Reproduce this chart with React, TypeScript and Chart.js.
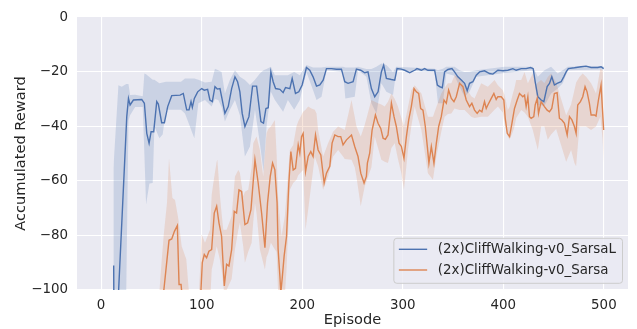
import React, { useEffect, useRef } from 'react';
import { Chart, registerables } from 'chart.js';

Chart.register(...registerables);

const seriesNames = ['(2x)CliffWalking-v0_SarsaL', '(2x)CliffWalking-v0_Sarsa'];
const xTicks = [0, 100, 200, 300, 400, 500];
const yTicks = [-100, -80, -60, -40, -20, 0];
const xLabel = 'Episode';
const yLabel = 'Accumulated Reward';

// SarsaL mean line
const sarsaLEpisodes = [12.5,12.8,15.5,25.5,27.2,28.8,32.1,40.4,43,45.4,
  47.7,49.7,52.3,55.3,56.9,60.2,62.9,66.2,70.2,78.5,
  81.7,85.1,87.4,89.4,90.7,92.7,96,100,102.6,105.9,
  108.2,110.6,113.2,115.5,118.2,120.5,123.1,126.4,129.8,133.1,
  135.7,138,140.3,143,147,150.6,154.6,158.9,161.5,163.9,
  166.2,168.8,171.1,173.5,177.8,181,183.4,187.7,190,193.3,
  196.6,199.9,204.2,207.5,210.8,214.2,217.5,220.8,224.1,229.1,
  234,239,242.3,245.6,250.6,253.9,258.2,262.2,265.4,268.8,
  272.1,275.4,278.7,281,283.7,288.7,292,294.3,298.6,301.9,
  306.9,311.8,314.1,318.5,321.7,325,331.7,334.4,336.6,339.3,
  341.6,344.9,348.9,351.5,354.8,358.2,361.5,364.1,366.4,369.7,
  373.1,376.4,381.3,386.3,389.6,394.6,399.5,404.5,409.5,412.8,
  417.8,422.7,427,429.7,431.7,434.3,437.6,440.3,443.6,445.9,
  448.2,450.8,453.5,457.5,460.1,462.5,464.7,470.7,477.3,482.3,
  487.3,493.9,497.2,499.8];
const sarsaLReward = [-91,-120,-115,-36.5,-29.8,-32.2,-30.4,-30.2,-31.6,-42.6,
  -46.2,-42,-42,-31,-31.9,-38.7,-38.7,-32.8,-28.8,-28.6,
  -28,-34,-34,-31,-33.1,-29.8,-27.4,-26.2,-26.8,-26.5,
  -30.4,-31,-25.5,-26.4,-26.2,-30.4,-35.3,-32.8,-26.2,-21.9,
  -23.7,-27.4,-35.3,-40.1,-36.5,-25.3,-25.3,-38.3,-38.9,-33.5,
  -33.2,-20.1,-23.7,-26.2,-26.5,-27.7,-25.8,-26.2,-22.5,-28,
  -27.4,-24.9,-18.5,-19.5,-21.9,-25.3,-24.9,-23.1,-18.9,-18.9,
  -19.1,-19.1,-23.7,-24.3,-23.7,-19.1,-19.5,-20.4,-20.1,-26.2,
  -29.2,-27.4,-20.1,-17.6,-22.5,-22.9,-23.1,-18.9,-19.1,-19.5,
  -20.4,-19.5,-18.9,-19.5,-18.9,-19.5,-19.5,-24.9,-25.5,-25.9,
  -20.1,-19.2,-18.9,-20.1,-21.9,-23.1,-24.3,-27,-24.3,-23.7,
  -21.3,-20.1,-19.7,-20.7,-20.9,-19.5,-19.7,-19.5,-18.9,-19.5,
  -18.9,-18.9,-18.5,-18.9,-23.7,-29.2,-30.4,-31,-25.5,-24.3,
  -21.9,-24.9,-24.3,-23.7,-21.9,-20.1,-18.9,-18.6,-18.2,-18,
  -18.5,-18.5,-18.2,-18.9];

// SarsaL confidence band
const sarsaLBandEpisodes = [12.2,17.2,20.5,25,27.2,28.8,33.8,41.4,43,44.7,
  48,51.3,53,57.9,61.2,64.5,79.4,83.4,92.7,96.7,
  103.3,109.9,113.2,116.5,119.8,123.1,128.1,133.1,138,143,
  148,153,157.9,161.5,164.5,168.8,172.8,181,185.7,192,
  197.6,204.2,210.8,214.2,219.2,224.1,240.6,242.9,252.2,255.5,
  263.8,268.8,273.8,278.7,283.7,290.3,293.6,331.7,335,339.9,
  343.3,351.5,356.5,361.5,366.4,373.1,401.2,429.3,434.3,440.9,
  447.5,454.1,459.1,464.1,499.8];
const sarsaLUpper = [-55.4,-25,-25.5,-24.5,-24.5,-28.6,-28.5,-29,-20.7,-21,
  -22,-23,-23,-24.3,-24,-23.7,-23.7,-22.5,-22.5,-23,
  -24,-23.7,-18.9,-19.5,-20.1,-28,-23,-19.5,-21.9,-23.1,
  -24.9,-23,-20.7,-19.5,-19,-18.2,-21.3,-21.3,-21.3,-20.1,
  -21.3,-17.6,-18.5,-18.5,-18.5,-18.2,-18.2,-18.5,-18.5,-18.2,
  -19,-19,-18.2,-17,-17.6,-20.1,-18.2,-18.9,-19.5,-18.9,
  -18.2,-18.2,-19.5,-20.1,-20,-19.5,-18.2,-18.2,-21.9,-19.5,
  -18.2,-20.7,-19.5,-18.2,-18];
const sarsaLLower = [-115,-115,-115,-100,-38,-36,-33,-33,-50,-68.7,
  -61,-60.8,-40,-44.4,-43,-34,-34,-35.3,-44.4,-31.6,
  -30.4,-32.8,-30,-30.4,-33,-38.3,-34,-30.4,-36,-51.1,
  -47.4,-34,-46.2,-56.6,-40.1,-27.4,-30.4,-34.7,-30.4,-34,
  -30.4,-20.1,-26.8,-30.4,-29.2,-19.5,-20.1,-29.8,-29.2,-19.5,
  -21.9,-31.6,-35.3,-24.3,-27.4,-28.6,-19.5,-20.1,-31.6,-31.6,
  -20.7,-21.5,-25.5,-29.2,-27.4,-21.9,-20.5,-19.5,-32.2,-32.5,
  -28,-26.2,-24.3,-19.5,-19.2];

// Sarsa mean line
const sarsaEpisodes = [59,67.5,70.2,72.9,75.8,77.5,79.5,81,88,97,
  99.3,100.6,102.6,104.9,107.2,109.9,112.5,114.9,117.2,119.8,
  122.5,124.8,127.1,129.8,132.4,134.7,137.1,139.7,143,145.7,
  149,153,156.2,159.6,162.9,165.5,168.2,170.5,172.8,175,
  176,177.8,178.7,180,182,184.4,186.7,188.7,191,193.3,
  196,197.6,199.3,200.9,203.3,205.9,208.5,210.8,213.2,215.8,
  218.5,221.8,224.1,227.4,229.7,232.4,235.7,238.3,240.6,244,
  249,252.2,255.5,258.2,261.5,263.8,264.8,267.1,269.5,272.8,
  275.4,278.1,280.4,282.7,285.3,288.7,291.3,293.6,296.3,298.6,
  301.2,303.6,305.9,308.5,311.2,313.5,315.8,317.8,320.1,322.4,
  324.4,326,328.4,331,333.4,335.7,338.3,341,343.3,345.6,
  348.3,350.9,353.2,356.5,359.8,363.1,366.4,368.7,371.4,374,
  376.4,378.7,381.3,383,384.6,388,390.6,392.9,394.6,397.9,
  400.5,401.9,403.9,406.2,408.6,411.1,413.8,416.1,419.4,421.1,
  422.7,424.4,426,427.7,430.3,431.7,433.7,435,437.6,440.9,
  443.6,445.9,448.2,450.8,453.5,455.8,458.2,460.8,463.5,465.8,
  468.2,470.7,472.4,474,476.7,479,481.3,483.3,485.6,487.3,
  490.6,492.2,494.6,497.2,499.8];
const sarsaReward = [-112,-81.8,-81.3,-78.5,-76.4,-98,-98,-104,-118,-112,
  -100,-90,-87,-88.2,-85.8,-85.2,-71.8,-69.3,-75.4,-80.3,
  -98.5,-90.6,-91.2,-85.2,-71.2,-71.8,-63.3,-63.9,-76,-75.4,
  -70.6,-52.3,-60.8,-71.8,-84.5,-68.1,-58.4,-53.5,-56,-68,
  -85,-94.9,-101,-96,-87.6,-80.3,-60.8,-49.3,-56,-55.4,
  -46.8,-49.9,-43.8,-42.6,-56.6,-51.1,-49.3,-51.1,-43.2,-48.7,
  -50.5,-60.8,-57.2,-54.7,-46.2,-43.2,-43.8,-43.8,-46.8,-45,
  -43.2,-47.4,-51.1,-57.2,-60.8,-58.4,-53.5,-49.9,-41.4,-35.9,
  -38.9,-40.8,-44.4,-44.8,-43.2,-31.6,-36.5,-40.1,-46.2,-47.4,
  -51.7,-43.8,-37.7,-32.8,-26.2,-27.4,-28,-33.5,-34.1,-40.1,
  -47.4,-53.5,-47.4,-53.5,-46.2,-40.1,-36.5,-30.4,-31.6,-26.8,
  -29.8,-31,-29.2,-24.3,-25.5,-30.4,-32.8,-31.6,-34.1,-35.3,
  -34.1,-34.7,-31,-33.5,-32.2,-29.8,-28,-30.2,-29.2,-29.2,
  -30.4,-37.1,-42.6,-43.8,-38.9,-33.5,-30.4,-28,-29.2,-28.6,
  -32.8,-29.2,-36.5,-37.1,-36.5,-32.2,-29.8,-35.3,-31,-32.8,
  -34.1,-34.7,-33.5,-28,-27.7,-37.1,-37.7,-38.9,-43.2,-36.5,
  -37.7,-40.1,-42.6,-32.2,-31,-29.2,-25.5,-27.4,-31.6,-35.9,
  -35.9,-36.3,-30.4,-24.9,-41.4];

// Sarsa confidence band
const sarsaBandEpisodes = [56,59,62.2,65.5,67.5,70.9,73.5,76.8,80.1,84.7,
  88,97,100,103.3,108.3,110,111.6,114.9,115.6,118.2,
  119.8,121.5,123.1,124.8,129.8,133.1,136.4,138,141.3,143,
  146.3,149.7,151.3,153,154.6,157.9,161.2,162.9,164.5,166.2,
  168.8,172.8,174.5,176.1,179.4,182.7,184.4,187.7,191,194.3,
  196,200.9,203.3,205.9,209.2,212.5,214.2,215.8,220.8,225.7,
  230.7,235.7,240.6,242.3,249,252.2,253.9,258.2,262.2,268.8,
  272.1,275.4,278.7,282,285.3,288.7,292,295.2,298.6,301.2,
  305.2,308.5,311.8,318.5,325,330,333.4,338.3,341.6,344.9,
  348.3,351.5,356.5,361.5,368.1,371.4,378,384.6,391.3,394.6,
  399.5,401.2,404.5,406.2,409.5,411.1,412.8,417.8,421.1,424.4,
  429.3,432.6,434.3,437.6,440.9,444.2,447.5,452.5,457.5,462.5,
  467.4,470.7,472.4,475.7,479,482.3,487.3,492.2,496.5,498.8,
  499.8];
const sarsaUpper = [-112,-95,-80,-68,-51.7,-66.3,-67,-74,-84,-88.7,
  -104,-104,-79.7,-82.7,-77.9,-65,-60.8,-53,-52.3,-65.7,
  -72,-77.9,-77.9,-77.9,-73,-58.4,-56,-57,-65.7,-64,
  -63.3,-55,-46.2,-45,-43.8,-48.7,-58.4,-50,-42.6,-41,
  -40.1,-37.7,-50,-66.9,-80.3,-73,-65,-48.7,-47,-40,
  -38.3,-34.7,-34,-32.8,-33.5,-34,-35.3,-41.4,-51.1,-46.2,
  -42,-40.1,-41,-41.4,-30.4,-36.5,-40,-43.8,-39.5,-30.4,
  -31,-31.6,-32,-32.8,-31,-28,-30,-32.8,-37,-40.1,
  -33,-26.8,-25,-28,-36.5,-36.5,-33,-28,-26,-24.3,
  -24.3,-21.3,-22,-25,-29,-29.8,-24.3,-25.5,-23.1,-25,
  -26.8,-28.6,-34.1,-33,-28,-26,-23.1,-23.1,-20.1,-24.3,
  -20.7,-24.9,-24,-23.1,-24.3,-22,-20.7,-24,-30,-36,
  -32,-26.8,-24,-22,-20.7,-21.9,-24.3,-28,-18.9,-19.5,
  -30.4];
const sarsaLower = [-115,-115,-115,-115,-115,-115,-115,-115,-115,-115,
  -115,-115,-115,-112,-105,-92.5,-90,-84,-85,-89,
  -92.5,-98,-104,-100,-96,-85.2,-78,-75.4,-84,-90,
  -86,-82.7,-75,-68.1,-72,-85.2,-90,-92.5,-88,-86.4,
  -82.7,-85.2,-86,-102,-106,-102,-92.5,-63.3,-60.8,-59.6,
  -58,-56,-77.9,-70.6,-60.8,-51.1,-53,-54.7,-63.3,-58.4,
  -51.1,-48.7,-51.1,-52,-52.3,-55,-58.4,-69.3,-62,-55,
  -43.8,-48,-52.3,-53,-53.5,-48,-46.2,-52,-57.2,-63.3,
  -48.7,-40,-32.8,-41.4,-57.2,-59.6,-51.1,-42,-36.5,-35.5,
  -35.3,-33.5,-34.1,-34.1,-36.5,-37,-36.5,-36.5,-34,-32.8,
  -35,-38.9,-43.8,-45,-42,-40.1,-37,-34.1,-35,-36.5,
  -41.4,-46.2,-48.7,-40.1,-40.1,-45,-43,-41,-47,-53,
  -48.7,-53.5,-54.7,-40.1,-40.1,-40.1,-41.4,-40.1,-36.5,-45,
  -53.5];

const BLUE = '#4C72B0';
const ORANGE = '#DD8452';
const BLUE_FILL = 'rgba(76,114,176,0.2)';
const ORANGE_FILL = 'rgba(221,132,82,0.2)';
const TEXT = '#262626';
const FONT = '"DejaVu Sans", "Liberation Sans", sans-serif';

const toPoints = (xs: number[], ys: number[]) => xs.map((x, i) => ({ x, y: ys[i] }));

const bgPlugin = {
  id: 'plotBg',
  beforeDraw(chart: any) {
    const { ctx, chartArea } = chart;
    ctx.save();
    ctx.fillStyle = '#EAEAF2';
    ctx.fillRect(chartArea.left, chartArea.top, chartArea.right - chartArea.left, chartArea.bottom - chartArea.top);
    ctx.restore();
  },
};

const legendPlugin = {
  id: 'insideLegend',
  afterDraw(chart: any) {
    const { ctx, chartArea } = chart;
    ctx.save();
    ctx.font = `13.4px ${FONT}`;
    const tw = Math.max(...seriesNames.map((n) => ctx.measureText(n).width));
    const boxRight = chartArea.right - 5.5;
    const boxBottom = chartArea.bottom - 6.7;
    const boxTop = chartArea.bottom - 51.7;
    const textX = boxRight - 6.5 - tw;
    const boxLeft = textX - 44;
    ctx.beginPath();
    if (ctx.roundRect) ctx.roundRect(boxLeft, boxTop, boxRight - boxLeft, boxBottom - boxTop, 3);
    else ctx.rect(boxLeft, boxTop, boxRight - boxLeft, boxBottom - boxTop);
    ctx.fillStyle = 'rgba(234,234,242,0.8)';
    ctx.fill();
    ctx.strokeStyle = '#cccccc';
    ctx.lineWidth = 1;
    ctx.stroke();
    const rows = [chartArea.bottom - 40.7, chartArea.bottom - 20];
    const colors = [BLUE, ORANGE];
    rows.forEach((y, i) => {
      ctx.beginPath();
      ctx.moveTo(textX - 39, y);
      ctx.lineTo(textX - 10.7, y);
      ctx.strokeStyle = colors[i];
      ctx.lineWidth = 1.4;
      ctx.stroke();
      ctx.fillStyle = TEXT;
      ctx.textBaseline = 'middle';
      ctx.textAlign = 'left';
      ctx.fillText(seriesNames[i], textX, y + 0.5);
    });
    ctx.restore();
  },
};

export default function App() {
  const canvasRef = useRef<HTMLCanvasElement | null>(null);

  useEffect(() => {
    if (!canvasRef.current) return;
    const lineCommon = { pointRadius: 0, borderWidth: 1.4, tension: 0, fill: false };
    const bandCommon = { pointRadius: 0, borderWidth: 0, tension: 0 };
    const chart = new Chart(canvasRef.current, {
      type: 'line',
      data: {
        datasets: [
          { ...bandCommon, label: 'sarsaL_upper', data: toPoints(sarsaLBandEpisodes, sarsaLUpper), borderColor: 'rgba(0,0,0,0)', fill: false, order: 4 },
          { ...bandCommon, label: 'sarsaL_lower', data: toPoints(sarsaLBandEpisodes, sarsaLLower), borderColor: 'rgba(0,0,0,0)', backgroundColor: BLUE_FILL, fill: '-1', order: 4 },
          { ...bandCommon, label: 'sarsa_upper', data: toPoints(sarsaBandEpisodes, sarsaUpper), borderColor: 'rgba(0,0,0,0)', fill: false, order: 3 },
          { ...bandCommon, label: 'sarsa_lower', data: toPoints(sarsaBandEpisodes, sarsaLower), borderColor: 'rgba(0,0,0,0)', backgroundColor: ORANGE_FILL, fill: '-1', order: 3 },
          { ...lineCommon, label: seriesNames[0], data: toPoints(sarsaLEpisodes, sarsaLReward), borderColor: BLUE, order: 1 },
          { ...lineCommon, label: seriesNames[1], data: toPoints(sarsaEpisodes, sarsaReward), borderColor: ORANGE, order: 0 },
        ],
      },
      options: {
        animation: false,
        responsive: false,
        events: [],
        layout: { padding: { left: 0, right: 9, top: 16, bottom: 0 } },
        plugins: { legend: { display: false }, tooltip: { enabled: false } },
        scales: {
          x: {
            type: 'linear',
            min: -24,
            max: 524,
            border: { display: false },
            grid: { color: '#ffffff', lineWidth: 1.1, drawTicks: false },
            afterBuildTicks: (scale: any) => { scale.ticks = xTicks.map((v) => ({ value: v })); },
            afterFit: (scale: any) => { scale.height = 39; },
            ticks: { color: TEXT, padding: 7, font: { family: FONT, size: 13.4 }, maxRotation: 0, callback: (v: any) => String(v) },
            title: { display: true, text: xLabel, color: TEXT, font: { family: FONT, size: 14.6 }, padding: { top: 0, bottom: 0 } },
          },
          y: {
            type: 'linear',
            min: -100,
            max: 0,
            border: { display: false },
            grid: { color: '#ffffff', lineWidth: 1.1, drawTicks: false },
            afterBuildTicks: (scale: any) => { scale.ticks = yTicks.map((v) => ({ value: v })); },
            afterFit: (scale: any) => { scale.width = 77; },
            ticks: { color: TEXT, padding: 9, font: { family: FONT, size: 13.4 }, callback: (v: any) => (v < 0 ? '\u2212' + Math.abs(v) : String(v)) },
            title: { display: true, text: yLabel, color: TEXT, font: { family: FONT, size: 14.6 }, padding: { top: 12, bottom: 0 } },
          },
        },
      },
      plugins: [bgPlugin, legendPlugin],
    } as any);
    return () => chart.destroy();
  }, []);

  return (
    <div style={{ position: 'absolute', left: 0, top: 0, width: 637, height: 329, background: '#ffffff' }}>
      <canvas ref={canvasRef} width={637} height={329} style={{ display: 'block', width: 637, height: 329 }} />
    </div>
  );
}
